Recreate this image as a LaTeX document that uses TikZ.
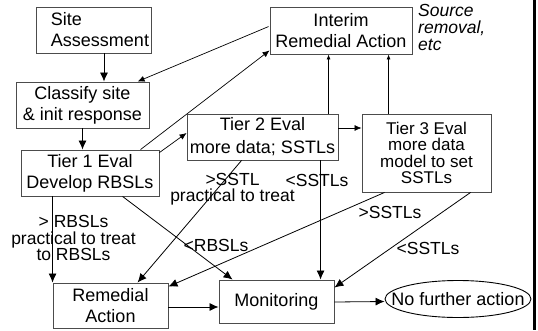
\documentclass[tikz,border=0pt]{standalone}
\usepackage{fontspec}
\setmainfont{Liberation Sans}
\usetikzlibrary{arrows.meta,shapes.geometric,calc}
\begin{document}
\begin{tikzpicture}[x=1pt,y=-1pt,
 box/.style={draw=black!70, line width=0.9pt, inner sep=0pt, align=center, font=\fontsize{18}{21}\selectfont},
 lbl/.style={inner sep=0pt, align=center, font=\fontsize{17.5}{16.5}\selectfont},
 arr/.style={line width=0.8pt, -{Latex[length=9pt,width=8pt]}},
 marr/.style={line width=0.7pt, -{Latex[length=7pt,width=6pt]}},
 sarr/.style={line width=0.7pt, -{Latex[length=5pt,width=4pt]}},
]
\fill[white] (0,0) rectangle (538,330);
\useasboundingbox (0,0) rectangle (538,330);
\fill[black] (533,0) rectangle (536,330);

\node[box, minimum width=115pt, minimum height=46pt, align=left] (site) at (93.5,30) {\hspace*{13pt}Site\\\hspace*{13pt}Assessment};
\node[box, minimum width=133pt, minimum height=46pt] (classify) at (82.5,105) {Classify site\\\& init response};
\node[box, minimum width=138pt, minimum height=46pt] (tier1) at (90,173) {Tier 1 Eval\\Develop RBSLs};
\node[box, minimum width=142pt, minimum height=47pt] (interim) at (341,30.5) {Interim\\Remedial Action};
\node[box, minimum width=151pt, minimum height=46pt, font=\fontsize{18}{23}\selectfont] (tier2) at (262.5,137) {Tier 2 Eval\\more data; SSTLs};
\node[box, minimum width=129pt, minimum height=78pt, font=\fontsize{17}{16.5}\selectfont] (tier3) at (426.5,153) {Tier 3 Eval\\more data\\model to set\\SSTLs};
\node[box, minimum width=115pt, minimum height=45pt] (remedial) at (110.5,305.5) {Remedial\\Action};
\node[box, minimum width=115pt, minimum height=43pt] (monitoring) at (276.5,301.5) {Monitoring};
\node[box, draw=black, ellipse, minimum width=146pt, minimum height=37pt] (nfa) at (458,299) {\makebox[0pt]{No further action}};

\node[lbl, anchor=north west, align=left, font=\itshape\fontsize{17.5}{17}\selectfont] (src) at (418,4) {Source\\removal,\\etc};

\draw[arr] ($(site.south)+(10.5,0)$) -- ($(classify.north)+(21.5,0)$);
\draw[arr] (classify.south) -- (classify.south |- tier1.north);
\draw[marr] ($(interim.north west)+(-1,20)$) -- ($(classify.north west)+(122,0)$);
\draw[marr] ($(tier1.north west)+(120,0)$) -- ($(interim.south west)+(0,-4)$);
\draw[marr] ($(tier1.north east)+(0,3)$) -- ($(tier2.west)+(0,-4)$);
\draw[sarr] ($(tier2.north west)+(142,0)$) -- ($(interim.south west)+(59,0)$);
\draw[sarr] ($(tier3.north west)+(27,0)$) -- ($(interim.south west)+(119,0)$);
\draw[marr] ($(tier2.east)+(0,-9)$) -- ($(tier3.west)+(0,-25)$);
\draw[arr] ($(tier1.south west)+(32,0)$) -- (remedial.north west);
\draw[arr] ($(tier1.south west)+(102,0)$) -- ($(monitoring.north west)+(14,0)$);
\draw[arr] ($(tier2.south west)+(55,0)$) -- ($(remedial.north west)+(85,0)$);
\draw[arr] ($(tier2.south west)+(134,0)$) -- ($(monitoring.north west)+(102,0)$);
\draw[arr] ($(tier3.south west)+(23,0)$) -- ($(remedial.north east)+(0,4)$);
\draw[arr] ($(tier3.south west)+(109,0)$) -- ($(monitoring.north east)+(0,8)$);
\draw[arr] ($(remedial.east)+(0,1.5)$) -- ($(monitoring.west)+(0,5.5)$);
\draw[arr] ($(monitoring.east)+(0,0.5)$) -- (nfa.west |- monitoring.east);

\node[lbl] (l1) at (73.5,238) {> RBSLs\\practical to treat\\to RBSLs};
\node[lbl] (l2) at (232.5,189) {>SSTL\\practical to treat};
\node[lbl] (l3) at (317,180) {<SSTLs};
\node[lbl] (l4) at (390,212) {>SSTLs};
\node[lbl] (l5) at (428,248) {<SSTLs};
\node[lbl] (l6) at (216,245) {<RBSLs};
\end{tikzpicture}
\end{document}
